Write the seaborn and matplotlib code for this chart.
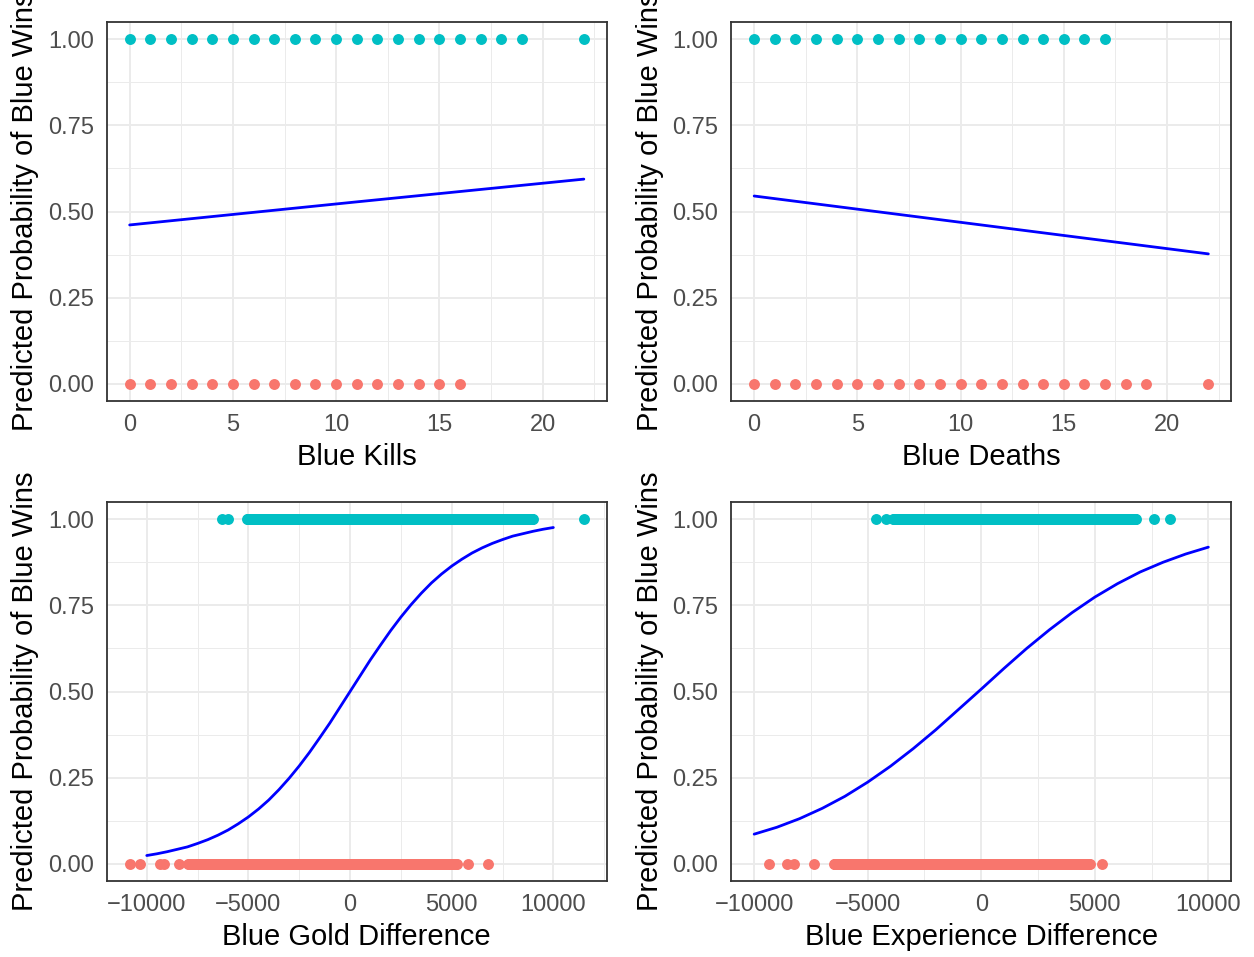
import numpy as np
import matplotlib
matplotlib.use('Agg')
import matplotlib.pyplot as plt
import seaborn as sns
from matplotlib.ticker import MultipleLocator, FormatStrFormatter

# Štýl podobný ggplot theme_bw
sns.set_style('white')
plt.rcParams['font.family'] = ['Liberation Sans', 'DejaVu Sans']
plt.rcParams['axes.unicode_minus'] = True

RED = '#F8766D'
TEAL = '#00BFC4'

# --- Blue Kills ---
kills_win = [0, 1, 2, 3, 4, 5, 6, 7, 8, 9, 10, 11, 12, 13, 14, 15, 16, 17, 18, 19, 22]
kills_loss = [0, 1, 2, 3, 4, 5, 6, 7, 8, 9, 10, 11, 12, 13, 14, 15, 16]
kills_line_x = [0, 11, 22]
kills_line_p = [0.461, 0.528, 0.594]

# --- Blue Deaths ---
deaths_win = [0, 1, 2, 3, 4, 5, 6, 7, 8, 9, 10, 11, 12, 13, 14, 15, 16, 17]
deaths_loss = [0, 1, 2, 3, 4, 5, 6, 7, 8, 9, 10, 11, 12, 13, 14, 15, 16, 17, 18, 19, 22]
deaths_line_x = [0, 11, 22]
deaths_line_p = [0.545, 0.461, 0.377]

# --- Blue Gold Difference ---
gold_win_single = [-6300, -5990, 11500]
gold_win_band = (-5080, 9000)          # súvislý pás prekrývajúcich sa bodov
gold_loss_single = [-10840, -10320, -9340, -9140, -8430, 5810, 6770]
gold_loss_band = (-7960, 5240)
gold_line_x = [-10000, -9500, -9000, -8500, -8000, -7500, -7000, -6500, -6000, -5500,
               -5000, -4500, -4000, -3500, -3000, -2500, -2000, -1500, -1000, -500, 0,
               500, 1000, 1500, 2000, 2500, 3000, 3500, 4000, 4500, 5000,
               5500, 6000, 6500, 7000, 7500, 8000, 8500, 9000, 9500, 10000]
gold_line_p = [0.024, 0.029, 0.035, 0.042, 0.049, 0.059, 0.070, 0.083, 0.098, 0.116,
               0.136, 0.159, 0.185, 0.215, 0.248, 0.284, 0.323, 0.365, 0.408, 0.454, 0.500,
               0.546, 0.592, 0.635, 0.677, 0.716, 0.752, 0.785, 0.815, 0.841, 0.864,
               0.884, 0.902, 0.917, 0.930, 0.941, 0.951, 0.958, 0.965, 0.971, 0.976]

# --- Blue Experience Difference ---
exp_win_single = [-4650, -4180, 7620, 8310]
exp_win_band = (-3890, 6820)
exp_loss_single = [-9340, -8550, -8250, -7360, 5310]
exp_loss_band = (-6500, 4770)
exp_line_x = [-10000, -9000, -8000, -7000, -6000, -5000, -4000, -3000, -2000, -1000, 0,
              1000, 2000, 3000, 4000, 5000, 6000, 7000, 8000, 9000, 10000]
exp_line_p = [0.086, 0.106, 0.131, 0.161, 0.196, 0.237, 0.283, 0.334, 0.389, 0.448, 0.507,
              0.567, 0.625, 0.679, 0.729, 0.774, 0.813, 0.847, 0.875, 0.899, 0.919]

YLABEL = 'Predicted Probability of Blue Wins'


def band_points(singles, band, step=40):
    # hustý pás bodov v grafe – vykreslený ako husto uložené body
    pts = np.arange(band[0], band[1] + step, step)
    return np.concatenate([np.array(singles, dtype=float), pts])


def draw_panel(ax, loss_x, win_x, line_x, line_p, xlabel, major, minor):
    sns.scatterplot(x=loss_x, y=np.zeros(len(loss_x)), ax=ax, color=RED,
                    s=62, linewidth=0, zorder=3)
    sns.scatterplot(x=win_x, y=np.ones(len(win_x)), ax=ax, color=TEAL,
                    s=62, linewidth=0, zorder=3)
    sns.lineplot(x=line_x, y=line_p, ax=ax, color='blue', linewidth=2.0, zorder=4)

    ax.xaxis.set_major_locator(MultipleLocator(major))
    ax.xaxis.set_minor_locator(MultipleLocator(minor))
    ax.yaxis.set_major_locator(MultipleLocator(0.25))
    ax.yaxis.set_minor_locator(MultipleLocator(0.125))
    ax.set_ylim(-0.05, 1.05)
    ax.yaxis.set_major_formatter(FormatStrFormatter('%.2f'))

    ax.grid(which='major', color='#EBEBEB', linewidth=1.4, zorder=0)
    ax.grid(which='minor', color='#EBEBEB', linewidth=0.7, zorder=0)
    ax.set_axisbelow(True)
    for sp in ax.spines.values():
        sp.set_color('#333333')
        sp.set_linewidth(1.3)
    ax.tick_params(which='major', length=5.5, width=1.2, color='#333333',
                   labelsize=17, labelcolor='#4D4D4D', pad=4)
    ax.tick_params(which='minor', length=0)
    ax.set_xlabel(xlabel, fontsize=21, color='black', labelpad=5)
    ax.set_ylabel(YLABEL, fontsize=21, color='black', labelpad=6)


fig, axes = plt.subplots(2, 2, figsize=(12.54, 9.57), dpi=100)
fig.subplots_adjust(left=0.0853, right=0.9817, top=0.977, bottom=0.0794,
                    wspace=0.25, hspace=0.2665)

draw_panel(axes[0, 0], kills_loss, kills_win, kills_line_x, kills_line_p,
           'Blue Kills', 5, 2.5)
draw_panel(axes[0, 1], deaths_loss, deaths_win, deaths_line_x, deaths_line_p,
           'Blue Deaths', 5, 2.5)
draw_panel(axes[1, 0], band_points(gold_loss_single, gold_loss_band),
           band_points(gold_win_single, gold_win_band),
           gold_line_x, gold_line_p, 'Blue Gold Difference', 5000, 2500)
draw_panel(axes[1, 1], band_points(exp_loss_single, exp_loss_band),
           band_points(exp_win_single, exp_win_band),
           exp_line_x, exp_line_p, 'Blue Experience Difference', 5000, 2500)

for ax in axes.flat:
    ax.margins(x=0.05)

fig.savefig('out.png', dpi=100)
